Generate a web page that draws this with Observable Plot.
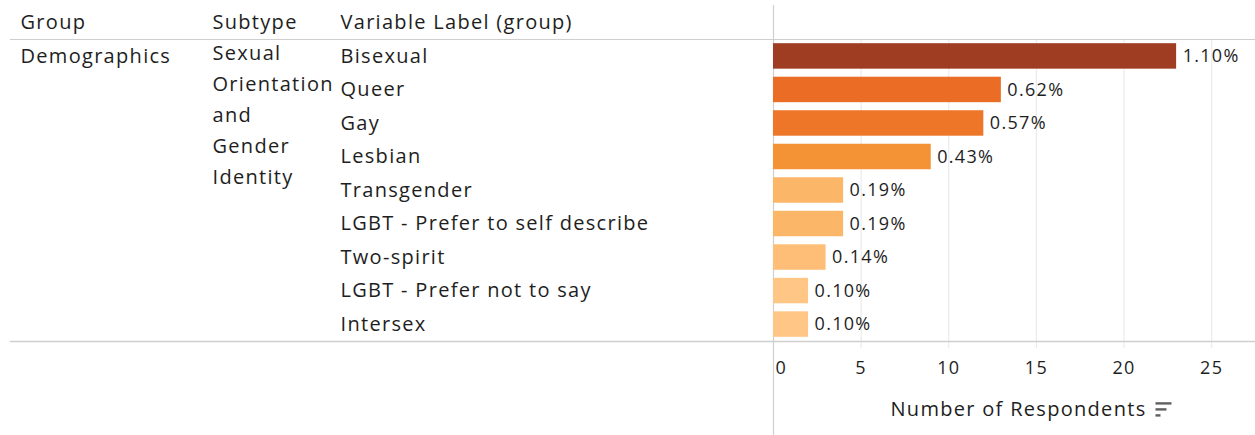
<!DOCTYPE html>
<html><head><meta charset="utf-8">
<script src="https://cdn.jsdelivr.net/npm/d3@7"></script>
<script src="https://cdn.jsdelivr.net/npm/@observablehq/plot@0.6"></script>
<style>
body{margin:0;background:#fff;}
#chart svg{display:block;}
</style>
</head><body><div id="chart"></div>
<script>
// ---- data ----
const labels = ["Bisexual","Queer","Gay","Lesbian","Transgender","LGBT - Prefer to self describe","Two-spirit","LGBT - Prefer not to say","Intersex"];
const counts = [23,13,12,9,4,4,3,2,2];
const pcts = ["1.10%","0.62%","0.57%","0.43%","0.19%","0.19%","0.14%","0.10%","0.10%"];
const groupName = "Demographics";
const subtypeName = "Sexual\nOrientation\nand\nGender\nIdentity";
const headers = ["Group","Subtype","Variable Label (group)"];
const xTicks = [0,5,10,15,20,25];
const xLabel = "Number of Respondents";

const data = labels.map((label,i)=>({label, count:counts[i], pct:pcts[i]}));

const FONT = "'Open Sans', sans-serif";
const TXT = "#1e1e1e";
const LINE = "#cfcfcf";
const L = 773; // frame left
const col = (px) => px - L;

const plot = Plot.plot({
  width:1255, height:435,
  marginLeft:L, marginRight:0, marginTop:39, marginBottom:94,
  style:{fontFamily:FONT, fontSize:"20px", color:TXT, background:"#fff", letterSpacing:"1.3px"},
  x:{domain:[0,27.5], axis:null},
  y:{domain:labels, axis:null, paddingInner:0.24, paddingOuter:0.125, round:false},
  color:{type:"linear", domain:[2,4,9,13,23], range:["#ffc685","#fcb668","#f49335","#eb6c25","#9e3d22"], interpolate:"rgb"},
  marks:[
    Plot.ruleX(xTicks.slice(1), {x:d=>d, stroke:"#ebebeb", strokeWidth:1.2, insetBottom:-7}),
    Plot.frame({anchor:"top", stroke:LINE, strokeWidth:1.2, insetLeft:-763}),
    Plot.frame({anchor:"bottom", stroke:LINE, strokeWidth:1.6, insetLeft:-763}),
    Plot.ruleX([0], {x:d=>d, stroke:LINE, strokeWidth:1.2, insetTop:-34, insetBottom:-94}),
    Plot.barX(data, {x:"count", y:"label", fill:"count"}),
    Plot.text(data, {x:"count", y:"label", text:"pct", dx:6, textAnchor:"start", fill:TXT, fontSize:18, letterSpacing:"0.6px"}),
    Plot.text(data, {y:"label", text:"label", frameAnchor:"left", dx:col(340), textAnchor:"start", fill:TXT}),
    Plot.text([{label:labels[0], t:groupName}], {y:"label", text:"t", frameAnchor:"left", dx:col(20), textAnchor:"start", fill:TXT}),
    Plot.text([subtypeName], {text:d=>d, frameAnchor:"top-left", dx:col(212), dy:-2, lineAnchor:"top", lineHeight:1.55, textAnchor:"start", fill:TXT}),
    Plot.text([headers[0]], {text:d=>d, frameAnchor:"top-left", dx:col(20), dy:-17, lineAnchor:"middle", textAnchor:"start", fill:TXT}),
    Plot.text([headers[1]], {text:d=>d, frameAnchor:"top-left", dx:col(212), dy:-17, lineAnchor:"middle", textAnchor:"start", fill:TXT}),
    Plot.text([headers[2]], {text:d=>d, frameAnchor:"top-left", dx:col(340), dy:-17, lineAnchor:"middle", textAnchor:"start", fill:TXT}),
    Plot.text(xTicks.slice(0,1), {x:d=>d, text:d=>String(d), frameAnchor:"bottom", dy:27, dx:2, lineAnchor:"middle", textAnchor:"start", fill:TXT, fontSize:18, letterSpacing:"0.8px"}),
    Plot.text(xTicks.slice(1), {x:d=>d, text:d=>String(d), frameAnchor:"bottom", dy:27, lineAnchor:"middle", textAnchor:"middle", fill:TXT, fontSize:18, letterSpacing:"0.8px"}),
    Plot.text([xLabel], {text:d=>d, frameAnchor:"bottom", dy:68, dx:4, lineAnchor:"middle", textAnchor:"middle", fill:TXT, fontSize:20, letterSpacing:"1.1px"})
  ]
});
document.getElementById("chart").appendChild(plot);

// sort indicator icon next to axis label (decoration)
const lab = Array.from(plot.querySelectorAll("text")).find(t => t.textContent === xLabel);
if (lab) {
  const r = lab.getBoundingClientRect();
  const s = plot.getBoundingClientRect();
  const g = d3.select(plot).append("g").attr("fill","#606060");
  const x0 = r.right - s.left + 9, yc = (r.top + r.bottom)/2 - s.top + 1;
  [[16,-6],[11,0],[5,6]].forEach(([w,dy]) => {
    g.append("rect").attr("x",x0).attr("y",yc+dy-1.2).attr("width",w).attr("height",2.4);
  });
}
</script>
</body></html>
